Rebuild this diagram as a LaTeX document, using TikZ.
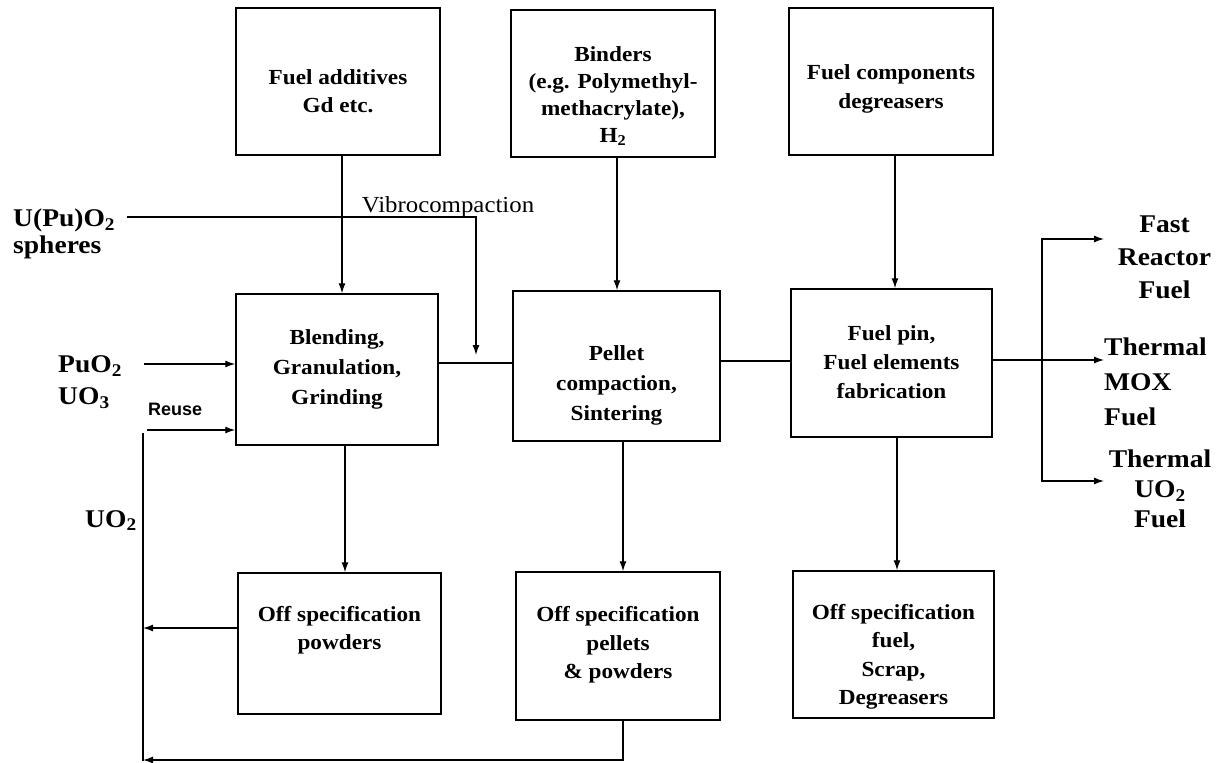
\documentclass[tikz,border=0pt]{standalone}
\usepackage{fontspec}
\setmainfont{Liberation Serif}[FakeStretch=1.08]
\newfontfamily\reusefont{Liberation Sans}
\usetikzlibrary{arrows.meta,calc}
\begin{document}
\begin{tikzpicture}[x=1pt,y=-1pt,
  box/.style={draw,line width=1.5pt,inner sep=0pt},
  btxt/.style={align=center,inner sep=0pt,font=\fontsize{21.5}{28.5}\selectfont\bfseries},
  lbl/.style={inner sep=0pt,font=\fontsize{25.5}{27}\selectfont\bfseries},
  ln/.style={line width=1.3pt,line cap=rect},
  arr/.style={line width=1.3pt,-{Latex[length=10pt,width=7pt]}}]
\fill[white] (0,0) rectangle (1221,763);
\useasboundingbox (0,0) rectangle (1221,763);
% boxes
\node[box,minimum width=204,minimum height=147] (fa) at (338,81.5) {};
\node[box,minimum width=204,minimum height=147] (bi) at (613,83.5) {};
\node[box,minimum width=204,minimum height=147] (fc) at (891,81.5) {};
\node[box,minimum width=202,minimum height=151] (bl) at (337,369.5) {};
\node[box,minimum width=207,minimum height=150] (pe) at (616.5,366) {};
\node[box,minimum width=201,minimum height=148] (fp) at (891.5,363) {};
\node[box,minimum width=203,minimum height=141] (op1) at (339.5,643.5) {};
\node[box,minimum width=204,minimum height=148] (op2) at (618,646) {};
\node[box,minimum width=201,minimum height=147] (op3) at (893.5,644.5) {};
% box texts
\node[btxt] (fat) at (338,91) {Fuel additives\\Gd etc.};
\node[btxt,font=\fontsize{21.5}{27}\selectfont\bfseries] (bit) at (613,96) {Binders\\(e.g. Polymethyl-\\methacrylate),\\H\textsubscript{2}};
\node[btxt] (fct) at (891,89) {Fuel components\\degreasers};
\node[btxt,font=\fontsize{21.5}{30}\selectfont\bfseries] (blt) at (337,369) {Blending,\\Granulation,\\Grinding};
\node[btxt,font=\fontsize{21.5}{30}\selectfont\bfseries] (pet) at (616.5,385) {Pellet\\compaction,\\Sintering};
\node[btxt,font=\fontsize{21.5}{29}\selectfont\bfseries] (fpt) at (891.5,362) {Fuel pin,\\Fuel elements\\fabrication};
\node[btxt] (op1t) at (339.5,630) {Off specification\\powders};
\node[btxt] (op2t) at (618,645) {Off specification\\pellets\\\&~powders};
\node[btxt] (op3t) at (893.5,657) {Off specification\\fuel,\\Scrap,\\Degreasers};
% outer labels
\node[lbl,align=left,anchor=west] (up) at (13,234) {U(Pu)O\textsubscript{2}\\spheres};
\node[lbl,align=left,anchor=west,font=\fontsize{25.5}{32}\selectfont\bfseries] (pu) at (58,382) {PuO\textsubscript{2}\\UO\textsubscript{3}};
\node[lbl,anchor=base west] (uo) at (85,527) {UO\textsubscript{2}};
\node[inner sep=0pt,anchor=base west,font=\reusefont\bfseries\fontsize{18}{20}\selectfont] (reuse) at (148,415) {Reuse};
\node[inner sep=0pt,anchor=base,font=\fontsize{23}{25}\selectfont] (vib) at (448,212) {Vibrocompaction};
\node[lbl,align=center,font=\fontsize{25.5}{33}\selectfont\bfseries] (fr) at (1164.5,257) {Fast\\Reactor\\Fuel};
\node[lbl,align=left,anchor=west,font=\fontsize{25.5}{35}\selectfont\bfseries] (tm) at (1104,382) {Thermal\\MOX\\Fuel};
\node[lbl,align=center,font=\fontsize{25.5}{30}\selectfont\bfseries] (tu) at (1160,489) {Thermal\\UO\textsubscript{2}\\Fuel};
% coordinates
\coordinate (vs) at (128,217);
\coordinate (vc) at (476,217);
\coordinate (ve) at (476,355);
\coordinate (puS) at (144,364);
\coordinate (reS) at (147,430);
\coordinate (lt) at (143,434);
\coordinate (lb) at (143,760);
\coordinate (br) at (1042,360);
\coordinate (bt) at (1042,239);
\coordinate (bb) at (1042,481);
\coordinate (o1) at (1104,239);
\coordinate (o2) at (1104,360);
\coordinate (o3) at (1104,481);
% connectors
\draw[arr] ([xshift=4pt]fa.south) -- ([xshift=4pt]fa.south |- bl.north);
\draw[arr] ([xshift=4pt]bi.south) -- ([xshift=4pt]bi.south |- pe.north);
\draw[arr] ([xshift=4pt]fc.south) -- ([xshift=4pt]fc.south |- fp.north);
\draw[arr] ([xshift=8pt]bl.south) -- ([xshift=8pt]bl.south |- op1.north);
\draw[arr] ([xshift=6.5pt]pe.south) -- ([xshift=6.5pt]pe.south |- op2.north);
\draw[arr] ([xshift=5.5pt]fp.south) -- ([xshift=5.5pt]fp.south |- op3.north);
\draw[ln] ([yshift=6.5pt]bl.east) -- ([yshift=6.5pt]bl.east -| pe.west);
\draw[ln] ([yshift=5pt]pe.east) -- ([yshift=5pt]pe.east -| fp.west);
\draw[ln] (vs) -- (vc);
\draw[arr] (vc) -- (ve);
\draw[arr] (puS) -- (puS -| bl.west);
\draw[arr] (reS) -- (reS -| bl.west);
\draw[ln] (lt) -- (lb);
\draw[arr] ([yshift=15.5pt]op1.west) -- ([yshift=15.5pt]op1.west -| lt);
\draw[arr] ([xshift=5pt]op2.south) |- (lb);
\draw[ln] ([yshift=3pt]fp.east) -- (br);
\draw[ln] (bt) -- (bb);
\draw[arr] (bt) -- (o1);
\draw[arr] (br) -- (o2);
\draw[arr] (bb) -- (o3);
\end{tikzpicture}
\end{document}
